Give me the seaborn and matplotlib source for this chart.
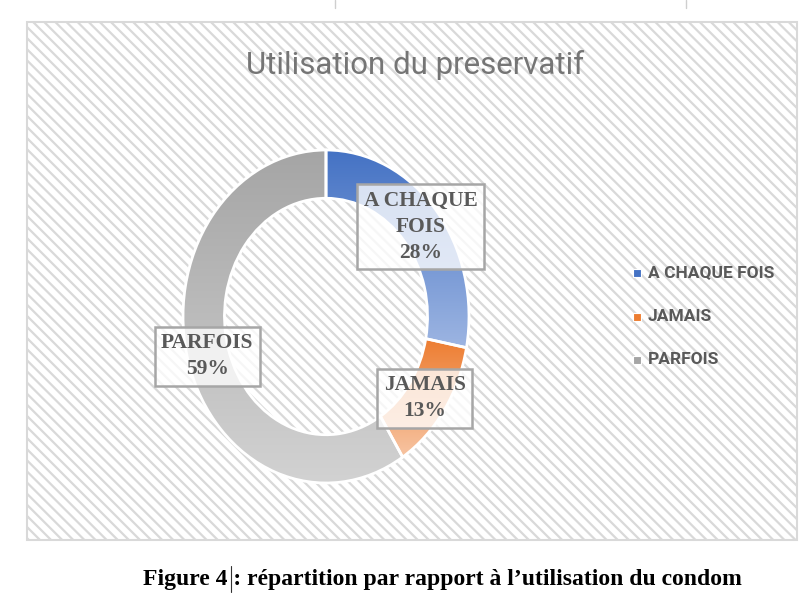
import numpy as np
import seaborn as sns
import matplotlib.pyplot as plt
from matplotlib.patches import Rectangle
from matplotlib.colors import LinearSegmentedColormap

categories = ["A CHAQUE FOIS", "JAMAIS", "PARFOIS"]
shares = [28, 13, 59]
top_colors = ["#4472C4", "#ED7D31", "#A5A5A5"]
bottom_colors = ["#9DB5E2", "#F7C4A2", "#D2D2D2"]
label_pos = [(0.66, 0.54), (0.69, -0.49), (-0.83, -0.24)]
label_text = ["A CHAQUE\nFOIS\n28%", "JAMAIS\n13%", "PARFOIS\n59%"]

sns.set_theme(style="white")
plt.rcParams["hatch.linewidth"] = 1.6
plt.rcParams["hatch.color"] = "#e2e2e2"

W, H = 807, 607
fig = plt.figure(figsize=(W / 100, H / 100), dpi=100)
fig.patch.set_facecolor("white")

# chart area with hatched background
fig.patches.append(Rectangle((27 / W, 1 - 540 / H), 770 / W, 518 / H,
                             transform=fig.transFigure, facecolor="white",
                             edgecolor="#d9d9d9", linewidth=1.5, hatch="\\\\\\",
                             zorder=-5))
# bits of the surrounding document table
for xp in (335, 686):
    fig.add_artist(plt.Line2D([xp / W, xp / W], [1, 1 - 8 / H],
                              transform=fig.transFigure, color="#cfcfcf", lw=1))

fig.text(415 / W, 1 - 65 / H, "Utilisation du preservatif", ha="center", va="center",
         fontsize=22.5, color="#757575", family=["Roboto", "DejaVu Sans"])

# donut is stretched vertically in the reference
cx, cy, rx, ry = 326, 316.5, 143, 166.5
ax = fig.add_axes([(cx - rx * 1.05) / W, 1 - (cy + ry * 1.05) / H,
                   2 * rx * 1.05 / W, 2 * ry * 1.05 / H])
ax.patch.set_alpha(0)
ax.axis("off")

wedges, _ = ax.pie(shares, startangle=90, counterclock=False, radius=1.0,
                   wedgeprops=dict(width=0.29, edgecolor="white", linewidth=2))
ax.set_aspect("auto")
ax.set_xlim(-1.05, 1.05)
ax.set_ylim(-1.05, 1.05)
for w, c0, c1 in zip(wedges, top_colors, bottom_colors):
    cmap = LinearSegmentedColormap.from_list("g", [c1, c0])
    bb = w.get_path().get_extents(w.get_transform() - ax.transData)
    grad = np.linspace(0, 1, 256).reshape(-1, 1)
    im = ax.imshow(grad, cmap=cmap, origin="lower", aspect="auto",
                   extent=[bb.x0, bb.x1, bb.y0, bb.y1], zorder=2)
    im.set_clip_path(w)
    w.set_facecolor("none")
    w.set_zorder(3)
ax.set_aspect("auto")
ax.set_xlim(-1.05, 1.05)
ax.set_ylim(-1.05, 1.05)

for (x, y), t in zip(label_pos, label_text):
    ax.text(x, y, t, ha="center", va="center", fontsize=15.5, fontweight="bold",
            color="#595959", family="Liberation Serif", linespacing=1.4, zorder=5,
            bbox=dict(boxstyle="square,pad=0.3", facecolor=(1, 1, 1, 0.78),
                      edgecolor="#a6a6a6", linewidth=1.8))

# legend
for i, (name, c) in enumerate(zip(categories, top_colors)):
    y = 1 - (273 + 43.5 * i) / H
    fig.patches.append(Rectangle((633 / W, y - 4 / H), 8 / W, 8 / H,
                                 transform=fig.transFigure, facecolor=c,
                                 edgecolor="white", linewidth=0.8))
    fig.text(648 / W, y, name, ha="left", va="center", fontsize=12.5,
             fontweight="bold", color="#595959", family=["Roboto", "DejaVu Sans"])

fig.text(442 / W, 1 - 579 / H,
         "Figure 4 : répartition par rapport à l\u2019utilisation du condom",
         ha="center", va="center", fontsize=17, fontweight="bold",
         color="black", family="Liberation Serif")
# text cursor left after the figure number
fig.add_artist(plt.Line2D([231 / W, 231 / W], [1 - 566 / H, 1 - 592 / H],
                          transform=fig.transFigure, color="#333333", lw=0.8))

fig.savefig("out.png", dpi=100)
